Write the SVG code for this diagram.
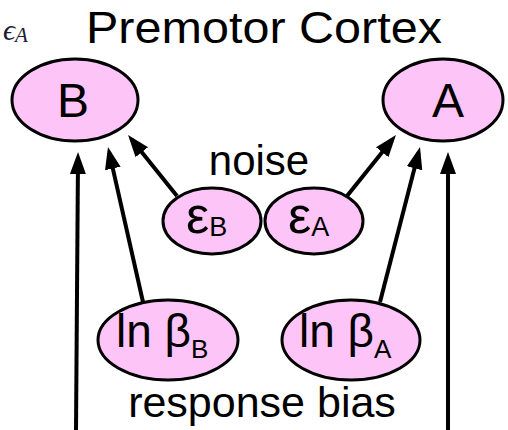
<svg xmlns="http://www.w3.org/2000/svg" width="508" height="430" viewBox="0 0 508 430">
<style>
.node ellipse{fill:#fcc4f7;stroke:#000;stroke-width:3}
.t{font-family:"Liberation Sans",Arial,sans-serif;fill:#000}
.conn line{stroke:#000;stroke-width:4}
</style>
<defs>
<marker id="ah" markerUnits="userSpaceOnUse" markerWidth="24" markerHeight="18" refX="16" refY="8" orient="auto" viewBox="0 0 24 18">
<path d="M0,0 L22,8 L0,16 Z" fill="#000"/>
</marker>
</defs>
<rect width="508" height="430" fill="#fff"/>
<text x="3" y="40" font-family="'Liberation Serif',serif" font-style="italic" font-size="30" fill="#1c1c30">ϵ<tspan font-size="21" dy="2">A</tspan></text>
<text class="t" x="86" y="43" font-size="45" textLength="356" lengthAdjust="spacingAndGlyphs">Premotor Cortex</text>
<text class="t" x="259" y="175" font-size="42" text-anchor="middle">noise</text>
<text class="t" x="262" y="417" font-size="43" text-anchor="middle">response bias</text>
<g class="conn">
<line x1="76" y1="430" x2="78" y2="158" marker-end="url(#ah)"/>
<line x1="143" y1="302" x2="109.3" y2="152.9" marker-end="url(#ah)"/>
<line x1="177" y1="196" x2="131.8" y2="139.7" marker-end="url(#ah)"/>
<line x1="347" y1="196" x2="392.2" y2="139.7" marker-end="url(#ah)"/>
<line x1="380" y1="302" x2="418.5" y2="152.8" marker-end="url(#ah)"/>
<line x1="448" y1="430" x2="448" y2="158" marker-end="url(#ah)"/>
</g>
<g id="nodeB" class="node">
<ellipse cx="75" cy="100" rx="63" ry="41"/>
<text class="t" x="73" y="117" font-size="48" text-anchor="middle">B</text>
</g>
<g id="nodeA" class="node">
<ellipse cx="443" cy="100" rx="60" ry="41"/>
<text class="t" x="448" y="117" font-size="48" text-anchor="middle">A</text>
</g>
<g id="nodeEpsB" class="node">
<ellipse cx="212" cy="221" rx="49" ry="33"/>
<text class="t" x="186" y="233" font-size="52">ε<tspan font-size="27" dy="3">B</tspan></text>
</g>
<g id="nodeEpsA" class="node">
<ellipse cx="314" cy="221" rx="49" ry="33"/>
<text class="t" x="288" y="233" font-size="52">ε<tspan font-size="27" dy="3">A</tspan></text>
</g>
<g id="nodeLnBetaB" class="node">
<ellipse cx="168" cy="340" rx="70" ry="40"/>
<text class="t" x="116" y="347" font-size="46">ln β<tspan font-size="26" dy="11">B</tspan></text>
</g>
<g id="nodeLnBetaA" class="node">
<ellipse cx="351" cy="340" rx="69" ry="40"/>
<text class="t" x="299" y="347" font-size="46">ln β<tspan font-size="26" dy="11">A</tspan></text>
</g>
</svg>
